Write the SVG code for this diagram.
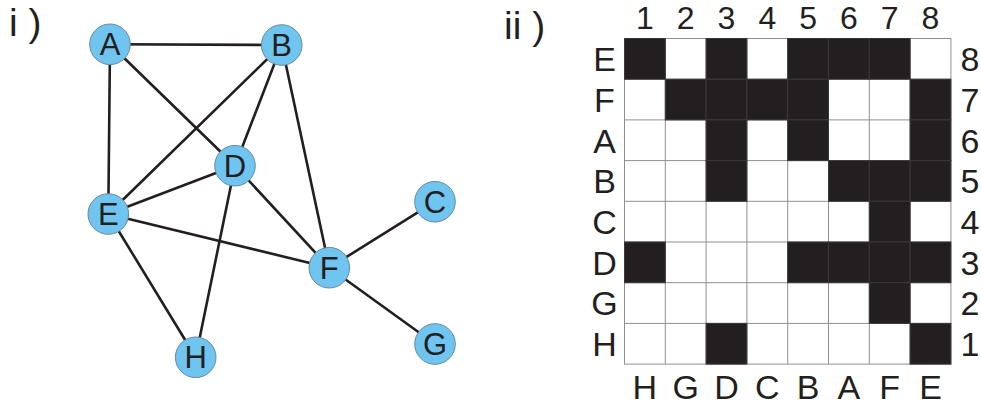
<svg xmlns="http://www.w3.org/2000/svg" width="981" height="405" viewBox="0 0 981 405">
<style>
text{font-family:"Liberation Sans",Arial,sans-serif;fill:#231f20}
.edge{stroke:#231f20;stroke-width:2.6;stroke-linecap:round}
.node circle{fill:#6fc4f0;stroke:#6a8a9a;stroke-width:1}
.node text{font-size:31px;text-anchor:middle}
.lab{font-size:34px;text-anchor:middle}
.top{font-size:32px}
.title{font-size:39px}
.blk{fill:#231f20;stroke:#3a3838;stroke-width:1}
.grid{stroke:#8f8f8f;stroke-width:1;fill:none}
</style>
<rect width="981" height="405" fill="#fff"/>
<text class="title" x="9" y="36">i )</text>
<text class="title" x="504" y="38.5">ii )</text>
<g id="connectors">
<line class="edge" x1="110" y1="44.3" x2="281.7" y2="45"/>
<line class="edge" x1="110" y1="44.3" x2="108.3" y2="214"/>
<line class="edge" x1="110" y1="44.3" x2="235" y2="165.7"/>
<line class="edge" x1="281.7" y1="45" x2="108.3" y2="214"/>
<line class="edge" x1="281.7" y1="45" x2="235" y2="165.7"/>
<line class="edge" x1="281.7" y1="45" x2="329.3" y2="267.7"/>
<line class="edge" x1="235" y1="165.7" x2="108.3" y2="214"/>
<line class="edge" x1="235" y1="165.7" x2="329.3" y2="267.7"/>
<line class="edge" x1="235" y1="165.7" x2="195.7" y2="357.3"/>
<line class="edge" x1="108.3" y1="214" x2="329.3" y2="267.7"/>
<line class="edge" x1="108.3" y1="214" x2="195.7" y2="357.3"/>
<line class="edge" x1="329.3" y1="267.7" x2="435" y2="201.7"/>
<line class="edge" x1="329.3" y1="267.7" x2="435" y2="344"/>
</g>
<g id="node-A" class="node"><circle cx="110" cy="44.3" r="20.3"/><text x="110" y="55.3">A</text></g>
<g id="node-B" class="node"><circle cx="281.7" cy="45" r="20.3"/><text x="281.7" y="56">B</text></g>
<g id="node-D" class="node"><circle cx="235" cy="165.7" r="20.3"/><text x="235" y="176.7">D</text></g>
<g id="node-E" class="node"><circle cx="108.3" cy="214" r="20.3"/><text x="108.3" y="225">E</text></g>
<g id="node-C" class="node"><circle cx="435" cy="201.7" r="20.3"/><text x="435" y="212.7">C</text></g>
<g id="node-F" class="node"><circle cx="329.3" cy="267.7" r="20.3"/><text x="329.3" y="278.7">F</text></g>
<g id="node-H" class="node"><circle cx="195.7" cy="357.3" r="20.3"/><text x="195.7" y="368.3">H</text></g>
<g id="node-G" class="node"><circle cx="435" cy="344" r="20.3"/><text x="435" y="355">G</text></g>
<g id="matrix">
<rect x="624.5" y="38.5" width="326.4" height="325.6" fill="#fff"/>
<g class="grid">
<path d="M665.3 38.5V364.1M706.1 38.5V364.1M746.9 38.5V364.1M787.7 38.5V364.1M828.5 38.5V364.1M869.3 38.5V364.1M910.1 38.5V364.1"/>
<path d="M624.5 79.2H950.9M624.5 119.9H950.9M624.5 160.6H950.9M624.5 201.3H950.9M624.5 242H950.9M624.5 282.7H950.9M624.5 323.4H950.9"/>
<rect x="624.5" y="38.5" width="326.4" height="325.6"/>
</g>
<g id="cells">
<rect class="blk" x="624.5" y="38.5" width="40.8" height="40.7"/>
<rect class="blk" x="706.1" y="38.5" width="40.8" height="40.7"/>
<rect class="blk" x="787.7" y="38.5" width="40.8" height="40.7"/>
<rect class="blk" x="828.5" y="38.5" width="40.8" height="40.7"/>
<rect class="blk" x="869.3" y="38.5" width="40.8" height="40.7"/>
<rect class="blk" x="665.3" y="79.2" width="40.8" height="40.7"/>
<rect class="blk" x="706.1" y="79.2" width="40.8" height="40.7"/>
<rect class="blk" x="746.9" y="79.2" width="40.8" height="40.7"/>
<rect class="blk" x="787.7" y="79.2" width="40.8" height="40.7"/>
<rect class="blk" x="910.1" y="79.2" width="40.8" height="40.7"/>
<rect class="blk" x="706.1" y="119.9" width="40.8" height="40.7"/>
<rect class="blk" x="787.7" y="119.9" width="40.8" height="40.7"/>
<rect class="blk" x="910.1" y="119.9" width="40.8" height="40.7"/>
<rect class="blk" x="706.1" y="160.6" width="40.8" height="40.7"/>
<rect class="blk" x="828.5" y="160.6" width="40.8" height="40.7"/>
<rect class="blk" x="869.3" y="160.6" width="40.8" height="40.7"/>
<rect class="blk" x="910.1" y="160.6" width="40.8" height="40.7"/>
<rect class="blk" x="869.3" y="201.3" width="40.8" height="40.7"/>
<rect class="blk" x="624.5" y="242" width="40.8" height="40.7"/>
<rect class="blk" x="787.7" y="242" width="40.8" height="40.7"/>
<rect class="blk" x="828.5" y="242" width="40.8" height="40.7"/>
<rect class="blk" x="869.3" y="242" width="40.8" height="40.7"/>
<rect class="blk" x="910.1" y="242" width="40.8" height="40.7"/>
<rect class="blk" x="869.3" y="282.7" width="40.8" height="40.7"/>
<rect class="blk" x="706.1" y="323.4" width="40.8" height="40.7"/>
<rect class="blk" x="910.1" y="323.4" width="40.8" height="40.7"/>
</g>
<g id="top-labels" class="lab top">
<text x="644.9" y="29">1</text><text x="685.7" y="29">2</text><text x="726.5" y="29">3</text><text x="767.3" y="29">4</text>
<text x="808.1" y="29">5</text><text x="848.9" y="29">6</text><text x="889.7" y="29">7</text><text x="930.5" y="29">8</text>
</g>
<g id="left-labels" class="lab">
<text x="604.5" y="71.2">E</text><text x="604.5" y="111.9">F</text><text x="604.5" y="152.6">A</text><text x="604.5" y="193.3">B</text>
<text x="604.5" y="234">C</text><text x="604.5" y="274.7">D</text><text x="604.5" y="315.4">G</text><text x="604.5" y="356.1">H</text>
</g>
<g id="right-labels" class="lab">
<text x="970" y="71.2">8</text><text x="970" y="111.9">7</text><text x="970" y="152.6">6</text><text x="970" y="193.3">5</text>
<text x="970" y="234">4</text><text x="970" y="274.7">3</text><text x="970" y="315.4">2</text><text x="970" y="356.1">1</text>
</g>
<g id="bottom-labels" class="lab">
<text x="644.9" y="399">H</text><text x="685.7" y="399">G</text><text x="726.5" y="399">D</text><text x="767.3" y="399">C</text>
<text x="808.1" y="399">B</text><text x="848.9" y="399">A</text><text x="889.7" y="399">F</text><text x="930.5" y="399">E</text>
</g>
</g>
</svg>
